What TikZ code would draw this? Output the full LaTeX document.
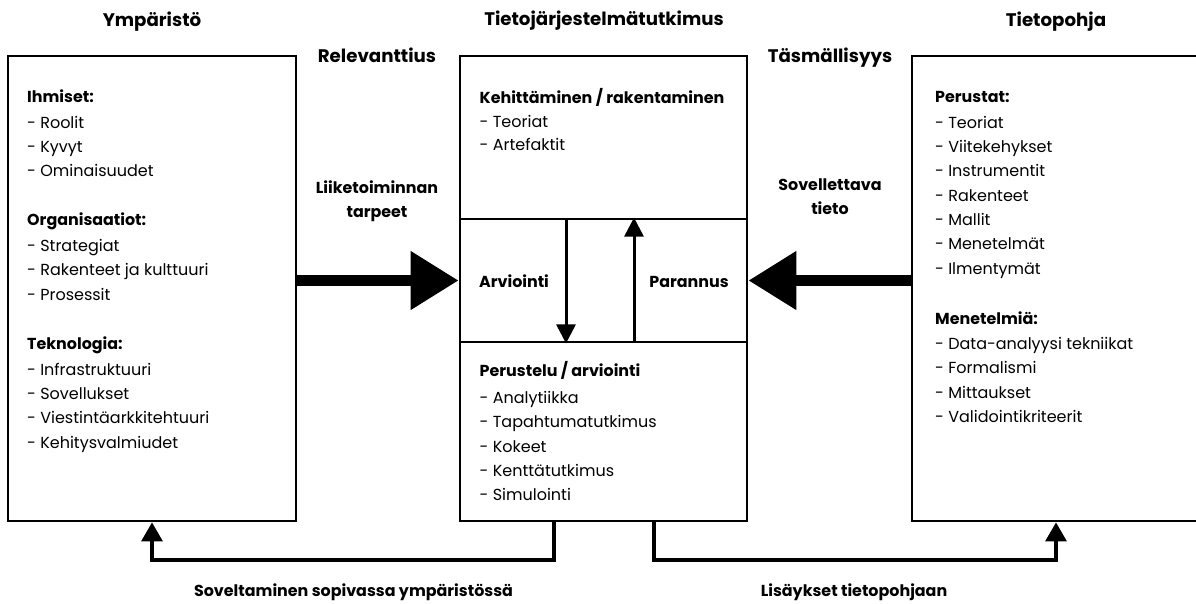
\documentclass[tikz,border=0pt]{standalone}
\usepackage{fontspec}
\setmainfont{Poppins}
\usetikzlibrary{arrows.meta}

\begin{document}
\begin{tikzpicture}[x=1pt,y=-1pt,
  box/.style={draw,line width=2.8pt,rectangle,inner sep=0pt},
  title/.style={font=\fontsize{18.2}{22}\selectfont\bfseries,anchor=base,inner sep=0pt},
  head/.style={font=\fontsize{15.9}{19}\selectfont\bfseries,anchor=base west,inner sep=0pt},
  entry/.style={font=\fontsize{16}{19}\selectfont,anchor=base west,inner sep=0pt},
  bigarrow/.style={line width=11pt,-{Triangle[length=48pt,width=56pt]}},
  smallarrow/.style={line width=3pt,-{Triangle[length=19pt,width=19pt]}},
  conn/.style={line width=3.2pt,-{Triangle[length=19pt,width=21pt]}}]

\useasboundingbox (0,0) rectangle (1196,603);
\clip (0,0) rectangle (1196,603);
\fill[white] (0,0) rectangle (1196,603);

% main boxes
\node[box,minimum width=288pt,minimum height=465pt] (env) at (152,288.5) {};
\node[box,minimum width=287pt,minimum height=163pt] (dev) at (603.5,137.5) {};
\node[box,minimum width=287pt,minimum height=123pt] (loop) at (603.5,280.5) {};
\node[box,minimum width=287pt,minimum height=179pt] (just) at (603.5,431.5) {};
\node[box,minimum width=293pt,minimum height=465pt] (kb) at (1058.5,288.5) {};

% column titles
\node[title] (t-env) at (152,26) {Ympäristö};
\node[title] (t-isr) at (604,25) {Tietojärjestelmätutkimus};
\node[title] (t-kb) at (1056,26) {Tietopohja};
\node[title] (t-rel) at (377,62.5) {Relevanttius};
\node[title] (t-rig) at (830,62.5) {Täsmällisyys};

% labels on the thick arrows
\node[head,anchor=base] (l-need1) at (377,193) {Liiketoiminnan};
\node[head,anchor=base] (l-need2) at (377,217) {tarpeet};
\node[head,anchor=base] (l-know1) at (830,190.5) {Sovellettava};
\node[head,anchor=base] (l-know2) at (830,214) {tieto};

% environment
\node[head] (h-ppl) at (27,102.7) {Ihmiset:};
\foreach \t [count=\i] in {Roolit,Kyvyt,Ominaisuudet}
  \node[entry] (ppl-\i) at (27,{128.3+24.3*(\i-1)}) {- \t};
\node[head] (h-org) at (27,225.7) {Organisaatiot:};
\foreach \t [count=\i] in {Strategiat,Rakenteet ja kulttuuri,Prosessit}
  \node[entry] (org-\i) at (27,{251+24.6*(\i-1)}) {- \t};
\node[head] (h-tec) at (27,349) {Teknologia:};
\foreach \t [count=\i] in {Infrastruktuuri,Sovellukset,Viestintäarkkitehtuuri,Kehitysvalmiudet}
  \node[entry] (tec-\i) at (27,{375+24.4*(\i-1)}) {- \t};

% research: build
\node[head] (h-dev) at (479.5,103) {Kehittäminen / rakentaminen};
\foreach \t [count=\i] in {Teoriat,Artefaktit}
  \node[entry] (dev-\i) at (479.5,{127.7+22.4*(\i-1)}) {- \t};

% research: loop
\node[head,anchor=base] (l-eval) at (514,287) {Arviointi};
\node[head,anchor=base] (l-ref) at (689,287) {Parannus};

% research: justify
\node[head] (h-just) at (479.5,376.7) {Perustelu / arviointi};
\foreach \t [count=\i] in {Analytiikka,Tapahtumatutkimus,Kokeet,Kenttätutkimus,Simulointi}
  \node[entry] (just-\i) at (479.5,{403.3+24.4*(\i-1)}) {- \t};

% knowledge base
\node[head] (h-fnd) at (935,102.7) {Perustat:};
\foreach \t [count=\i] in {Teoriat,Viitekehykset,Instrumentit,Rakenteet,Mallit,Menetelmät,Ilmentymät}
  \node[entry] (fnd-\i) at (935,{128.3+24.33*(\i-1)}) {- \t};
\node[head] (h-met) at (935,324.3) {Menetelmiä:};
\foreach \t [count=\i] in {Data-analyysi tekniikat,Formalismi,Mittaukset,Validointikriteerit}
  \node[entry] (met-\i) at (935,{349.3+24.5*(\i-1)}) {- \t};

% bottom labels
\node[head,anchor=base] (l-app) at (353.5,596) {Soveltaminen sopivassa ympäristössä};
\node[head,anchor=base] (l-add) at (854,596) {Lisäykset tietopohjaan};

% thick arrows into the research box
\draw[bigarrow] (env.east |- loop.west) -- (loop.west);
\draw[bigarrow] (kb.west |- loop.east) -- (loop.east);

% build / evaluate loop
\draw[smallarrow] ([xshift=-37.5pt]loop.north) -- ([xshift=-37.5pt]loop.south);
\draw[smallarrow] ([xshift=30.5pt]loop.south) -- ([xshift=30.5pt]loop.north);

% feedback connectors
\coordinate (lowl) at (152,560);
\coordinate (lowr) at (1056,560);
\draw[conn] ([xshift=-49.5pt]just.south) |- (lowl) -- (env.south);
\draw[conn] ([xshift=50.5pt]just.south) |- (lowr) -- (lowr |- kb.south);
\end{tikzpicture}
\end{document}
